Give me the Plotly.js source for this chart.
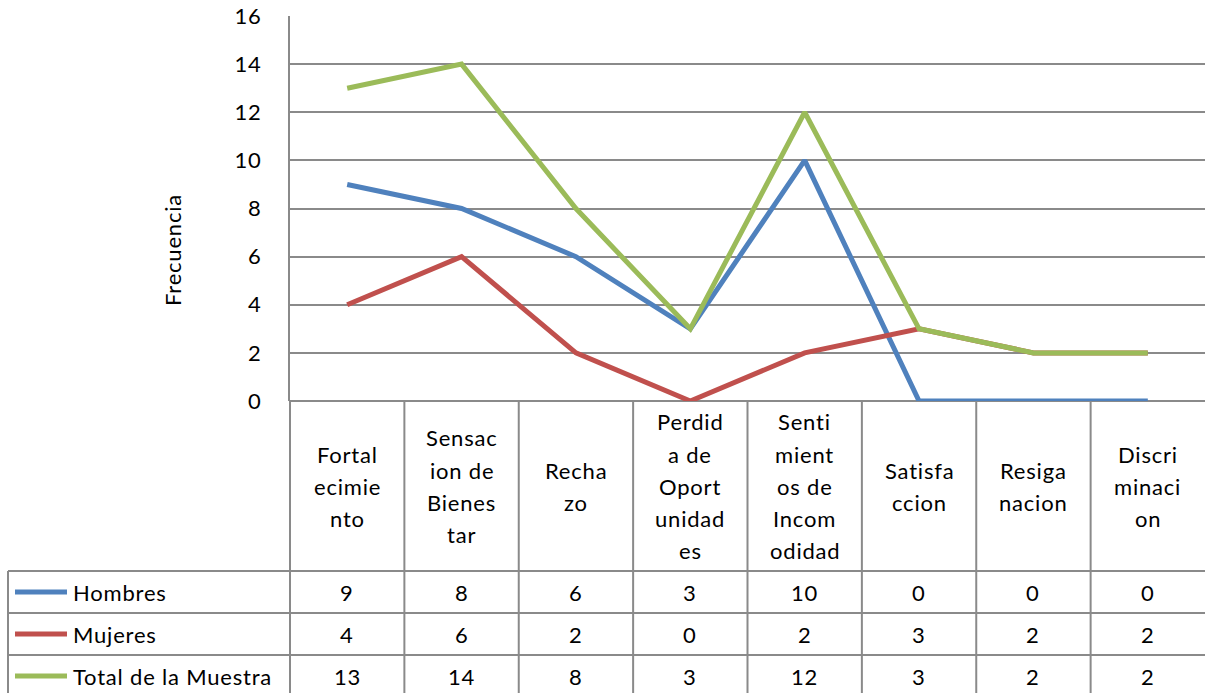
<!DOCTYPE html>
<html>
<head>
<meta charset="utf-8">
<script src="https://cdn.plot.ly/plotly-3.0.1.min.js"></script>
<style>html,body{margin:0;padding:0;background:#fff;}#chart{width:1205px;height:693px;}
text{letter-spacing:0.8px;}</style>
</head>
<body>
<div id="chart"></div>
<script>
const categories = ['Fortalecimiento','Sensacion de Bienestar','Rechazo','Perdida de Oportunidades','Sentimientos de Incomodidad','Satisfaccion','Resignacion','Discriminacion'];
const categoryLines = [['Fortal','ecimie','nto'],['Sensac','ion de','Bienes','tar'],['Recha','zo'],['Perdid','a de','Oport','unidad','es'],['Senti','mient','os de','Incom','odidad'],['Satisfa','ccion'],['Resiga','nacion'],['Discri','minaci','on']];
const seriesNames = ['Hombres','Mujeres','Total de la Muestra'];
const hombres = [9,8,6,3,10,0,0,0];
const mujeres = [4,6,2,0,2,3,2,2];
const total = [13,14,8,3,12,3,2,2];
const colors = ['#4F81BD','#C0504D','#9BBB59'];
const yTicks = [0,2,4,6,8,10,12,14,16];

const W = 1205, H = 693, L = 290, R = 0, T = 16, B = 292;
const pw = W - L - R, ph = H - T - B;
const px = v => (v - L) / pw;
const py = v => (H - B - v) / ph;
const FONT = 'Lato, "Open Sans", sans-serif';
const grid = '#8a8a8a';
const fs = 22;

const xs = categories.map((c, i) => i);
const allSeries = [hombres, mujeres, total];
const traces = allSeries.map((vals, k) => ({
  x: xs, y: vals, type: 'scatter', mode: 'lines', name: seriesNames[k],
  line: {color: colors[k], width: 5}, hoverinfo: 'skip', cliponaxis: false
}));

const shapes = [];
const annotations = [];
const n = categories.length;
const headerBottom = 571, rowH = 42;
const rowTops = [571, 613, 655];
// vertical cell borders
for (let k = 0; k < n; k++) {
  shapes.push({type:'line', xref:'paper', yref:'paper', x0:k/n, x1:k/n, y0:0, y1:py(H+5), line:{color:grid, width:2}});
}
// left border of legend column
shapes.push({type:'line', xref:'paper', yref:'paper', x0:px(8), x1:px(8), y0:py(571), y1:py(H+5), line:{color:grid, width:2}});
// horizontal row borders
rowTops.forEach(y => shapes.push({type:'line', xref:'paper', yref:'paper', x0:px(8), x1:1, y0:py(y), y1:py(y), line:{color:grid, width:2}}));

// category header text
const headerCenter = (401 + headerBottom) / 2;
const lineGap = 32;
categoryLines.forEach((lines, i) => {
  const start = headerCenter - (lines.length - 1) * lineGap / 2;
  lines.forEach((t, j) => {
    annotations.push({xref:'x', yref:'paper', x:i, y:py(start + j*lineGap), text:t, showarrow:false,
      xanchor:'center', yanchor:'middle', font:{family:FONT, size:fs, color:'#000'}});
  });
});

// data rows
allSeries.forEach((vals, k) => {
  const cy = rowTops[k] + rowH/2;
  shapes.push({type:'line', xref:'paper', yref:'paper', x0:px(15), x1:px(67), y0:py(cy), y1:py(cy), line:{color:colors[k], width:5}});
  annotations.push({xref:'paper', yref:'paper', x:px(71), y:py(cy), text:seriesNames[k], showarrow:false,
    xanchor:'left', yanchor:'middle', font:{family:FONT, size:fs, color:'#000'}});
  vals.forEach((v, i) => {
    annotations.push({xref:'x', yref:'paper', x:i, y:py(cy), text:String(v), showarrow:false,
      xanchor:'center', yanchor:'middle', font:{family:FONT, size:fs, color:'#000'}});
  });
});

// y-axis title
annotations.push({xref:'paper', yref:'paper', x:px(172), y:py(250), text:'Frecuencia', textangle:-90, showarrow:false,
  xanchor:'center', yanchor:'middle', font:{family:FONT, size:fs, color:'#000'}});

const layout = {
  width: W, height: H,
  margin: {l:L, r:R, t:T, b:B, pad:0},
  paper_bgcolor: '#fff', plot_bgcolor: '#fff',
  showlegend: false,
  font: {family: FONT, size: fs, color: '#000'},
  xaxis: {range:[-0.5, n-0.5], showgrid:false, zeroline:false, showticklabels:false, ticks:'', showline:false, fixedrange:true},
  yaxis: {range:[0,16], tickvals:yTicks, ticktext:yTicks.map(String), showgrid:true, gridcolor:grid, gridwidth:2,
    zeroline:true, zerolinecolor:grid, zerolinewidth:2, showline:true, linecolor:grid, linewidth:2, ticks:'',
    ticklabelstandoff:22, tickfont:{family:FONT, size:fs, color:'#000'}, fixedrange:true},
  shapes: shapes,
  annotations: annotations
};
Plotly.newPlot('chart', traces, layout, {displayModeBar:false, staticPlot:true});
</script>
</body>
</html>
